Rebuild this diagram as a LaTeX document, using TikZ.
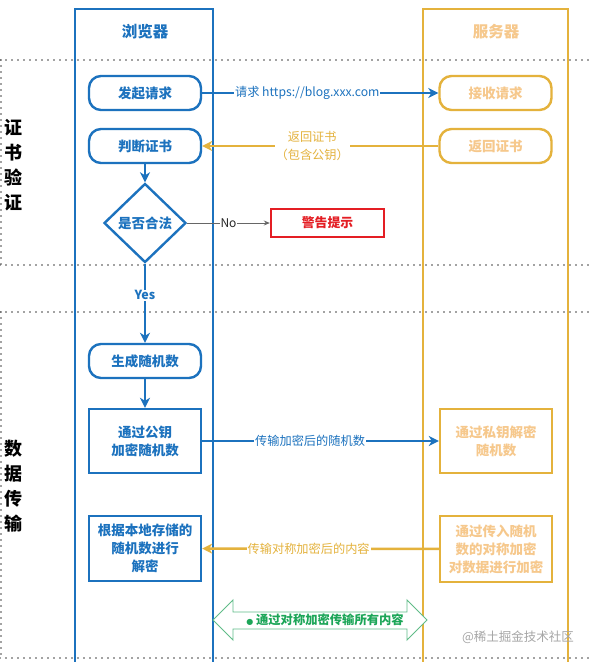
\documentclass[tikz,border=0pt]{standalone}
\usepackage{fontspec}
\setmainfont{Noto Sans CJK SC}
\newfontfamily\symfont{DejaVu Sans}
\usetikzlibrary{arrows.meta,shapes.geometric}
\definecolor{bblue}{RGB}{28,114,190}
\definecolor{sgold}{RGB}{228,178,60}
\definecolor{stext}{RGB}{246,200,140}
\definecolor{wred}{RGB}{228,30,36}
\definecolor{ggreen}{RGB}{28,166,88}
\definecolor{gline}{RGB}{96,188,136}
\definecolor{dotc}{RGB}{70,70,70}
\begin{document}
\begin{tikzpicture}[x=1pt,y=-1pt,
  lanebox/.style={line width=2.8pt},
  dotline/.style={draw=dotc,line width=1.8pt,line cap=round,dash pattern=on 0pt off 6pt},
  nodefont/.style={font=\bfseries\fontsize{13.5}{18}\selectfont},
  bstep/.style={draw=bblue,line width=2.4pt,text=bblue,nodefont,minimum width=112pt,minimum height=34pt,align=center,fill=white,inner sep=0pt},
  sstep/.style={draw=sgold,line width=2.4pt,text=stext,nodefont,minimum width=112pt,minimum height=34pt,align=center,fill=white,inner sep=0pt},
  roundstep/.style={rounded corners=12pt},
  tallstep/.style={minimum height=64pt},
  lbl/.style={fill=white,inner sep=1pt,font=\fontsize{12.2}{15}\selectfont},
  barrow/.style={draw=bblue,line width=2.4pt,-{Stealth[length=10pt,width=10pt,inset=3pt]}},
  garrow/.style={draw=sgold,line width=2.4pt,-{Stealth[length=10pt,width=10pt,inset=3pt]}},
  sidelabel/.style={font=\bfseries\fontsize{18}{25}\selectfont,align=center,text=black},
  titletext/.style={font=\bfseries\fontsize{15.5}{18}\selectfont}
]
\useasboundingbox (0,0) rectangle (591,662);
\fill[white] (0,0) rectangle (591,662);

% dotted section frames
\draw[dotline] (0,60) -- (591,60);
\draw[dotline] (0,265) -- (591,265);
\draw[dotline] (0,312) -- (591,312);
\draw[dotline] (0,658) -- (591,658);
\draw[dotline] (1,60) -- (1,265);
\draw[dotline] (1,312) -- (1,658);

% lanes
\draw[lanebox,draw=bblue] (75,672) -- (75,9) -- (213,9) -- (213,672);
\draw[lanebox,draw=sgold] (423,672) -- (423,9) -- (568,9) -- (568,672);
\node[titletext,text=bblue] (tb) at (145,32) {浏览器};
\node[titletext,text=stext] (ts) at (496,32) {服务器};

% side labels
\node[sidelabel] (sec1) at (14,165) {证\\书\\验\\证};
\node[sidelabel] (sec2) at (14,486) {数\\据\\传\\输};

% browser steps
\node[bstep,roundstep] (a1) at (145,93) {发起请求};
\node[bstep,roundstep] (a2) at (145,146) {判断证书};
\node[draw=bblue,line width=2.4pt,text=bblue,nodefont,diamond,aspect=1.04,minimum width=82pt,minimum height=79pt,inner sep=0pt,fill=white] (d) at (145,223) {是否合法};
\node[draw=wred,line width=2.4pt,text=wred,font=\bfseries\fontsize{12.8}{16}\selectfont,minimum width=113pt,minimum height=28pt,inner sep=0pt,fill=white] (w) at (327.5,223) {警告提示};
\node[bstep,roundstep] (a3) at (145,361) {生成随机数};
\node[bstep,tallstep] (a4) at (145,441) {通过公钥\\加密随机数};
\node[bstep,tallstep,minimum height=65pt] (a5) at (145,548.5) {根据本地存储的\\随机数进行\\解密};

% server steps
\node[sstep,roundstep] (s1) at (495.5,93) {接收请求};
\node[sstep,roundstep] (s2) at (495.5,146) {返回证书};
\node[sstep,tallstep] (s3) at (496,441) {通过私钥解密\\随机数};
\node[sstep,tallstep,minimum height=66pt] (s4) at (496,549) {通过传入随机\\数的对称加密\\对数据进行加密};

% flow arrows
\draw[barrow] (a2) -- (d);
\draw[draw=black!60,line width=0.9pt,-{Stealth[length=6pt,width=5pt]}] (d) -- node[lbl,text=black!85,font=\fontsize{12}{14}\selectfont] {No} (w);
\draw[barrow] (d) -- node[lbl,pos=0.4,text=bblue,font=\bfseries\fontsize{12.5}{14}\selectfont] {Yes} (a3);
\draw[barrow] (a3) -- (a4);

% messages
\draw[barrow] (a1) -- node[lbl,pos=0.445,text=bblue] {请求 https://blog.xxx.com} (s1);
\draw[garrow] (s2) -- node[lbl,pos=0.534,text=sgold,align=center,font=\fontsize{12.2}{17.5}\selectfont] {返回证书\\（包含公钥）} (a2);
\draw[barrow] (a4) -- node[lbl,pos=0.456,text=bblue] {传输加密后的随机数} (s3);
\draw[garrow] (s4) -- node[lbl,pos=0.55,text=sgold] {传输对称加密后的内容} (a5);

% green double arrow
\coordinate (gl) at (213,620);
\coordinate (gr) at (427,620);
\filldraw[draw=gline,fill=white,line width=0.9pt]
  (gl) -- ++(20,-20) -- ++(0,12) -- (407,612) -- ++(0,-12) -- (gr) -- (407,640) -- ++(0,-11) -- (233,629) -- ++(0,11) -- cycle;
\node[text=ggreen,font=\bfseries\fontsize{12.3}{14}\selectfont,inner sep=0pt] (gtext) at (325,620) {{\symfont\fontsize{8}{8}\selectfont ●}\ 通过对称加密传输所有内容};

% watermark
\node[text=black!35,font=\fontsize{12.5}{14}\selectfont,inner sep=0pt] (wm) at (518,637) {@稀土掘金技术社区};
\end{tikzpicture}
\end{document}
